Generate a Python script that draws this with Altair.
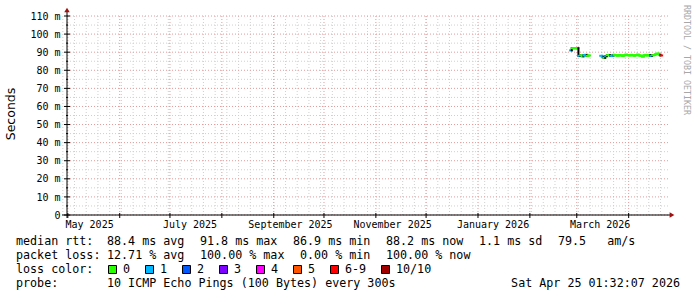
import altair as alt
import pandas as pd

# ---------------- data ----------------
loss_labels = ["0", "1", "2", "3", "4", "5", "6-9", "10/10"]
loss_colors = ["#26ff00", "#00b8ff", "#0059ff", "#7e00ff", "#ff00ff", "#ff5500", "#ff0000", "#a00000"]

med_dates = [
    "2026-02-25", "2026-02-26", "2026-02-27", "2026-02-28", "2026-03-01", "2026-03-02",
    "2026-03-03", "2026-03-04", "2026-03-05", "2026-03-06", "2026-03-07", "2026-03-08",
    "2026-03-15", "2026-03-16", "2026-03-17", "2026-03-18", "2026-03-19", "2026-03-20",
    "2026-03-21", "2026-03-22", "2026-03-23", "2026-03-24", "2026-03-25", "2026-03-26",
    "2026-03-27", "2026-03-28", "2026-03-29", "2026-03-30", "2026-03-31", "2026-04-01",
    "2026-04-02", "2026-04-03", "2026-04-04", "2026-04-05", "2026-04-06", "2026-04-07",
    "2026-04-08", "2026-04-09", "2026-04-10", "2026-04-11", "2026-04-12", "2026-04-13",
    "2026-04-14", "2026-04-15", "2026-04-16", "2026-04-17", "2026-04-18", "2026-04-19",
    "2026-04-20",
]
med_values = [
    91.0, 92.2, 92.2, 92.2, 92.2, 88.0,
    88.3, 87.7, 88.2, 88.5, 88.0, 88.2,
    88.0, 87.5, 86.9, 87.8, 88.3, 88.4,
    88.0, 88.2, 88.5, 88.3, 88.1, 88.4,
    88.2, 88.0, 88.3, 88.6, 88.4, 88.2,
    88.5, 88.3, 88.1, 88.4, 88.6, 88.2,
    88.0, 87.6, 88.3, 88.5, 88.2, 88.4,
    88.0, 88.3, 88.5, 89.0, 89.2, 88.6,
    88.2,
]
med_loss = [
    1, 0, 0, 0, 0, 1,
    0, 0, 1, 1, 0, 0,
    1, 1, 0, 1, 0, 0,
    1, 1, 0, 0, 0, 0,
    0, 0, 0, 0, 0, 0,
    0, 0, 0, 0, 0, 0,
    0, 0, 0, 0, 0, 0,
    1, 0, 0, 0, 0, 0,
    6,
]

x_label_dates = ["2025-05-14", "2025-07-13", "2025-09-11", "2025-11-11", "2026-01-10", "2026-03-15"]
x_label_texts = ["May 2025", "July 2025", "September 2025", "November 2025", "January 2026", "March 2026"]

y_major = [0, 10, 20, 30, 40, 50, 60, 70, 80, 90, 100, 110]
y_minor = [5, 15, 25, 35, 45, 55, 65, 75, 85, 95, 105]
y_labels = ["0\u00a0\u00a0", "10 m", "20 m", "30 m", "40 m", "50 m", "60 m", "70 m", "80 m", "90 m", "100 m", "110 m"]

# ---------------- build tables ----------------
FMT = "%Y-%m-%dT%H:%M:%S"
segs = []
ts = [pd.Timestamp(d) for d in med_dates]
for i, (t, v, l) in enumerate(zip(ts, med_values, med_loss)):
    t2 = t + pd.Timedelta(days=1)
    segs.append({"x": t.strftime(FMT), "x2": t2.strftime(FMT), "y": v, "y2": v, "c": loss_colors[l]})
    if i + 1 < len(ts) and ts[i + 1] == t2:
        nv, nl = med_values[i + 1], med_loss[i + 1]
        c = loss_colors[l] if nl == l else "#000000"
        segs.append({"x": t2.strftime(FMT), "x2": t2.strftime(FMT), "y": v, "y2": nv, "c": c})
seg_df = pd.DataFrame(segs)

months = pd.date_range("2025-05-01", "2026-04-01", freq="MS")
weeks = pd.date_range("2025-04-28", "2026-04-24", freq="W-MON")
month_df = pd.DataFrame({"t": [m.strftime(FMT) for m in months]})
week_df = pd.DataFrame({"t": [w.strftime(FMT) for w in weeks]})
ymaj_df = pd.DataFrame({"v": y_major, "lab": y_labels})
ymin_df = pd.DataFrame({"v": y_minor})
xlab_df = pd.DataFrame({"t": [pd.Timestamp(d).strftime(FMT) for d in x_label_dates], "lab": x_label_texts})

W, H = 601, 199
OX, OY = 67, 16

xs = alt.Scale(domain=[alt.DateTime(year=2025, month=4, date=30, hours=12),
                       alt.DateTime(year=2026, month=4, date=24, hours=12)])
ys = alt.Scale(domain=[0, 110], nice=False, zero=False)

MONO = "DejaVu Sans Mono"

# grid
g_week = alt.Chart(week_df).mark_rule(color="#cfcfcf", strokeDash=[1, 2], strokeWidth=1).encode(
    x=alt.X("t:T", scale=xs, axis=None), y=alt.value(0), y2=alt.value(H))
g_ymin = alt.Chart(ymin_df).mark_rule(color="#cfcfcf", strokeDash=[1, 2], strokeWidth=1).encode(
    y=alt.Y("v:Q", scale=ys, axis=None), x=alt.value(0), x2=alt.value(W))
g_month = alt.Chart(month_df).mark_rule(color="#e39a9a", strokeDash=[1, 2], strokeWidth=1).encode(
    x=alt.X("t:T", scale=xs, axis=None), y=alt.value(0), y2=alt.value(H))
g_ymaj = alt.Chart(ymaj_df).mark_rule(color="#e39a9a", strokeDash=[1, 2], strokeWidth=1).encode(
    y=alt.Y("v:Q", scale=ys, axis=None), x=alt.value(0), x2=alt.value(W))

# data
med = alt.Chart(seg_df).mark_rule(strokeWidth=2, strokeCap="square").encode(
    x=alt.X("x:T", scale=xs, axis=None), x2="x2:T",
    y=alt.Y("y:Q", scale=ys, axis=None), y2="y2:Q",
    color=alt.Color("c:N", scale=None))

# axes lines & ticks
yticks = alt.Chart(ymaj_df).mark_rule(color="#000000").encode(
    y=alt.Y("v:Q", scale=ys, axis=None), x=alt.value(-3), x2=alt.value(3))
yticks_min = alt.Chart(ymin_df).mark_rule(color="#000000").encode(
    y=alt.Y("v:Q", scale=ys, axis=None), x=alt.value(-1), x2=alt.value(1))
xticks = alt.Chart(month_df).mark_rule(color="#000000").encode(
    x=alt.X("t:T", scale=xs, axis=None), y=alt.value(H - 2), y2=alt.value(H + 3))
one = alt.Data(values=[{"a": 1}])
xaxis = alt.Chart(one).mark_rule(color="#000000").encode(
    x=alt.value(-5), x2=alt.value(W + 2), y=alt.value(H), y2=alt.value(H))
yaxis = alt.Chart(one).mark_rule(color="#000000").encode(
    x=alt.value(0), x2=alt.value(0), y=alt.value(-6), y2=alt.value(H + 3))
arr_up = alt.Chart(one).mark_point(shape="triangle-up", filled=True, color="#a01010", size=30, opacity=1).encode(
    x=alt.value(0), y=alt.value(-6))
arr_rt = alt.Chart(one).mark_point(shape="triangle-right", filled=True, color="#a01010", size=30, opacity=1).encode(
    x=alt.value(W + 4), y=alt.value(H))

# axis labels
ylab = alt.Chart(ymaj_df).mark_text(font=MONO, fontSize=10, align="right", baseline="alphabetic", dy=3.6,
                                    color="#000000").encode(
    y=alt.Y("v:Q", scale=ys, axis=None), x=alt.value(-6.5), text="lab:N")
xlab = alt.Chart(xlab_df).mark_text(font=MONO, fontSize=10, align="center", baseline="alphabetic",
                                    color="#000000").encode(
    x=alt.X("t:T", scale=xs, axis=None), y=alt.value(212), text="lab:N")


def txt(s, x, y, size=11.7, align="left", font=MONO, color="#000000", angle=0, baseline="alphabetic"):
    kw = dict(font=font, fontSize=size, align=align, baseline=baseline, color=color)
    if angle:
        kw["angle"] = angle
    return alt.Chart(alt.Data(values=[{"a": 1}])).mark_text(**kw).encode(
        x=alt.value(x - OX), y=alt.value(y - OY), text=alt.value(s))


texts = [
    txt("Seconds", 11, 114, size=12.5, font="DejaVu Sans", align="center", angle=270, baseline="middle"),
    txt("RRDTOOL / TOBI OETIKER", 686, 5, size=8.3, font=MONO, color="#a8a8a8", angle=90,
        baseline="middle"),
    # line 1
    txt("median rtt:", 16, 245),
    txt("88.4 ms avg", 107, 245),
    txt("91.8 ms max", 200, 245),
    txt("86.9 ms min", 293, 245),
    txt("88.2 ms now", 386, 245),
    txt("1.1 ms sd", 479, 245),
    txt("79.5\u00a0\u00a0\u00a0am/s", 558, 245),
    # line 2
    txt("packet loss:", 16, 259),
    txt("12.71 % avg", 107, 259),
    txt("100.00 % max", 200, 259),
    txt("0.00 % min", 300, 259),
    txt("100.00 % now", 386, 259),
    # line 3
    txt("loss color:", 16, 273),
    # line 4
    txt("probe:", 16, 287),
    txt("10 ICMP Echo Pings (100 Bytes) every 300s", 107, 287),
    txt("Sat Apr 25 01:32:07 2026", 680, 287, align="right"),
]

sq_x = [108, 145, 182, 219, 256, 293, 330, 381]
squares = []
for sx, lab, col in zip(sq_x, loss_labels, loss_colors):
    squares.append(
        alt.Chart(alt.Data(values=[{"a": 1}])).mark_rect(color=col, stroke="#000000", strokeWidth=1).encode(
            x=alt.value(sx - OX + 0.5), x2=alt.value(sx - OX + 8.5),
            y=alt.value(265 - OY + 0.5), y2=alt.value(273 - OY + 0.5)))
    squares.append(txt(lab, sx + 15, 273))

chart = alt.layer(
    g_week, g_ymin, g_month, g_ymaj, med, yticks, yticks_min, xticks, xaxis, yaxis, arr_up, arr_rt,
    ylab, xlab, *texts, *squares
).properties(
    width=W, height=H,
    padding={"left": OX, "top": OY, "right": 697 - OX - W, "bottom": 297 - OY - H},
    autosize=alt.AutoSizeParams(type="none"),
    background="#ffffff",
).configure_view(strokeWidth=0)

chart.save("out.html", embed_options={"renderer": "svg", "actions": False})
